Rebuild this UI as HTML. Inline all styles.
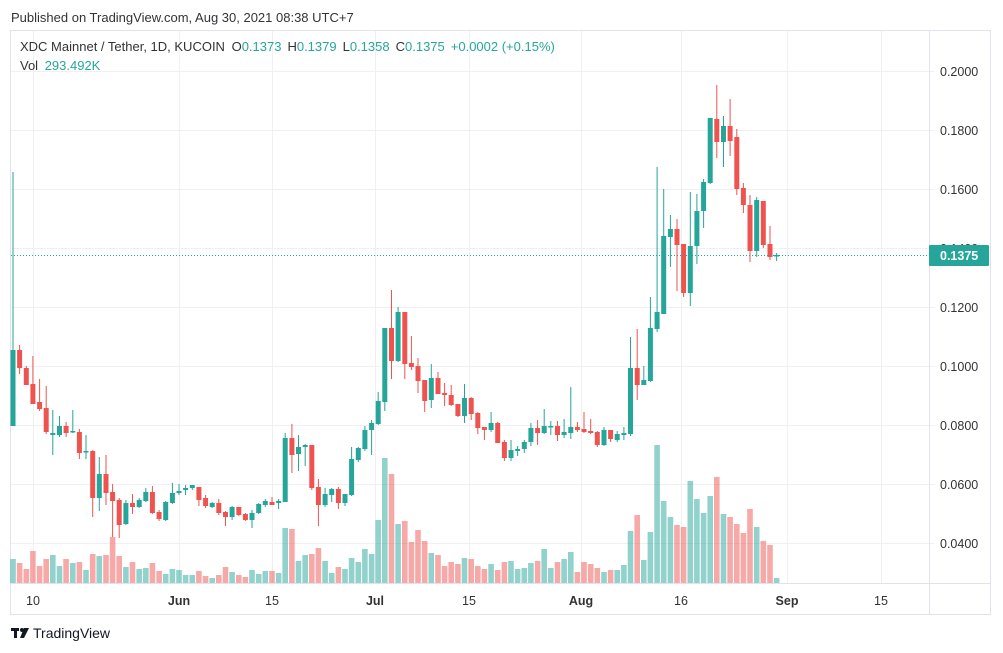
<!DOCTYPE html>
<html><head><meta charset="utf-8"><style>
html,body{margin:0;padding:0;background:#fff;width:1003px;height:653px;overflow:hidden;font-family:"Liberation Sans",sans-serif;}
svg text{font-family:"Liberation Sans",sans-serif;}
</style></head><body>
<svg id="s" width="1003" height="653" xmlns="http://www.w3.org/2000/svg">
<rect x="0" y="0" width="1003" height="653" fill="#fff"/>
<text x="11" y="22" font-size="13" fill="#333">Published on TradingView.com, Aug 30, 2021 08:38 UTC+7</text>
<g id="grid" stroke="#f0f0f3" stroke-width="1"></g>
<rect x="10.5" y="30.5" width="980" height="584" fill="none" stroke="#e0e3eb"/>
<line x1="929.5" y1="30" x2="929.5" y2="614" stroke="#e0e3eb"/>
<line x1="10" y1="583.5" x2="990" y2="583.5" stroke="#e0e3eb"/>
<g id="vol"></g>
<g id="cdl"></g>
<line x1="11" y1="255.5" x2="929" y2="255.5" stroke="#26a69a" stroke-dasharray="1,2"/>
<g id="lbl" font-size="12.5" fill="#333"></g>
<rect x="929" y="245" width="60" height="21" fill="#26a69a" rx="1"/>
<text x="940" y="260" font-size="12.5" fill="#fff" font-weight="bold">0.1375</text>
<text x="20" y="51" font-size="13" fill="#333">XDC Mainnet / Tether, 1D, KUCOIN <tspan dx="3">O</tspan><tspan fill="#26a69a">0.1373</tspan><tspan dx="6">H</tspan><tspan fill="#26a69a">0.1379</tspan><tspan dx="6">L</tspan><tspan fill="#26a69a">0.1358</tspan><tspan dx="6">C</tspan><tspan fill="#26a69a">0.1375</tspan><tspan dx="6" fill="#26a69a">+0.0002 (+0.15%)</tspan></text>
<text x="20" y="70" font-size="13" fill="#333">Vol <tspan dx="3" fill="#26a69a">293.492K</tspan></text>
<g fill="#131722"><rect x="11" y="628" width="8" height="3"/><rect x="14" y="628" width="3" height="10"/><circle cx="22" cy="630" r="2"/><polygon points="24,628 29,628 24,638 20,638"/></g>
<text x="33" y="638" font-size="14" fill="#131722">TradingView</text>
</svg>
<script>
var ns="http://www.w3.org/2000/svg";
function el(p,t,a){var e=document.createElementNS(ns,t);for(var k in a)e.setAttribute(k,a[k]);p.appendChild(e);return e;}
var G=document.getElementById('grid'),V=document.getElementById('vol'),C=document.getElementById('cdl'),L=document.getElementById('lbl');
var xs=[33,179,272,375,469,581,681,787,881];
xs.forEach(function(x){el(G,'line',{x1:x+.5,y1:31,x2:x+.5,y2:583});});
var pr=["0.2000","0.1800","0.1600","0.1400","0.1200","0.1000","0.0800","0.0600","0.0400"];
pr.forEach(function(p,i){var y=71+59*i;el(G,'line',{x1:11,y1:y+.5,x2:929,y2:y+.5});el(G,'line',{x1:929,y1:y+.5,x2:934,y2:y+.5});var t=el(L,'text',{x:940,y:y+5});t.textContent=p;});
var tl=[["10",33,0],["Jun",179,1],["15",272,0],["Jul",375,1],["15",469,0],["Aug",581,1],["16",681,0],["Sep",787,1],["15",881,0]];
tl.forEach(function(a){var t=el(L,'text',{x:a[1],y:605,'text-anchor':'middle','font-weight':a[2]?'bold':'normal'});t.textContent=a[0];});
// o,c,h,l (pixel y)
var D=[[426,350,172,426],[350,368,345,374],[368,385,366,385],[384,404,356,404],[402,409,379,411],[408,432,386,434],[435,433,410,455],[435,426,416,437],[426,433,422,437],[432,431,410,433],
[432,453,429,459],[452,451,435,459],[451,498,450,517],[498,474,457,511],[474,493,455,505],[492,501,484,537],[500,525,498,538],[524,503,500,525],[503,507,494,514],[507,500,498,508],
[501,492,488,502],[492,513,486,514],[512,519,510,521],[520,502,501,521],[503,493,483,504],[493,491,484,495],[490,488,485,495],[488,485,485,490],[487,500,487,506],[498,506,495,508],
[507,503,502,508],[503,513,499,515],[512,517,511,526],[517,507,506,520],[507,515,507,516],[514,520,513,521],[520,513,510,528],[513,504,503,514],[505,501,499,507],[502,505,497,505],
[503,501,499,509],[502,438,433,502],[438,455,424,473],[454,447,435,471],[447,445,444,466],[445,488,445,490],[487,505,479,526],[505,494,488,507],[495,489,488,502],[489,503,487,509],
[503,494,494,506],[495,459,447,496],[460,448,447,462],[449,430,426,451],[430,423,420,455],[424,401,392,425],[402,328,328,411],[328,361,290,379],[361,312,307,362],[312,364,312,379],
[363,367,336,370],[366,381,358,393],[380,401,380,412],[400,378,364,408],[378,394,372,394],[393,395,383,406],[395,405,385,406],[404,416,404,417],[416,398,384,423],[398,414,397,420],
[413,428,412,434],[427,430,427,440],[430,423,412,432],[423,443,422,443],[442,458,440,461],[458,450,440,461],[451,449,446,456],[449,442,440,453],[442,428,423,446],[428,433,420,445],
[433,426,409,434],[427,426,421,435],[426,435,421,441],[435,432,419,438],[433,427,387,439],[427,430,422,432],[429,432,412,433],[431,433,419,434],[432,445,431,447],[445,430,427,446],
[430,439,430,442],[440,434,431,442],[435,433,427,440],[434,368,337,436],[368,385,329,400],[385,380,366,385],[381,328,297,382],[329,312,167,332],[314,236,189,314],[237,229,215,267],
[229,245,219,291],[244,293,244,297],[293,246,192,306],[246,211,194,264],[211,182,179,228],[183,118,118,184],[119,142,85,158],[142,126,116,167],[126,141,99,156],[137,189,129,195],
[188,205,183,213],[205,251,195,262],[251,200,197,257],[201,245,201,248],[244,257,226,260],[256,255,253,261]];
var Vv=[[559,1],[563,0],[569,0],[551,0],[566,0],[559,0],[555,1],[566,1],[559,0],[563,1],[562,0],[570,1],[554,0],[556,1],[555,0],[537,0],[556,0],[567,1],[562,0],[569,1],
[568,1],[563,0],[571,0],[574,1],[569,1],[570,1],[575,1],[575,1],[571,0],[576,0],[578,1],[575,0],[567,0],[572,1],[575,0],[577,0],[570,1],[574,1],[571,1],[571,0],
[573,1],[528,1],[529,0],[561,1],[555,1],[554,0],[548,0],[561,1],[573,1],[567,0],[569,1],[558,1],[562,1],[549,1],[554,1],[520,1],[458,1],[474,0],[524,1],[521,0],
[542,0],[530,0],[541,0],[553,1],[555,0],[566,0],[562,0],[564,0],[558,1],[559,0],[566,0],[569,0],[564,1],[570,0],[562,0],[561,1],[569,1],[568,1],[563,1],[561,0],
[549,1],[568,1],[562,0],[559,1],[552,1],[572,0],[562,0],[564,0],[568,0],[572,1],[570,0],[570,1],[565,1],[531,1],[515,0],[560,1],[532,1],[445,1],[501,1],[517,1],
[525,0],[527,0],[481,1],[499,1],[513,1],[496,1],[477,0],[514,1],[517,0],[524,0],[533,0],[509,0],[527,1],[541,0],[545,0],[578,1]];
var GC="#26a69a",RC="#ef5350";
D.forEach(function(d,i){var x=13+6.64*i;var up=d[1]<d[0];var col=up?GC:RC;
 var v=Vv[i];el(V,'rect',{x:(x-2.8).toFixed(1),y:v[0],width:5.6,height:583-v[0],fill:v[1]?'rgba(38,166,154,0.5)':'rgba(239,83,80,0.5)'});
 el(C,'rect',{x:(x-0.5).toFixed(1),y:d[2],width:1,height:Math.max(1,d[3]-d[2]),fill:col});
 var t=Math.min(d[0],d[1]),b=Math.max(d[0],d[1]);
 el(C,'rect',{x:(x-2.5).toFixed(1),y:t,width:5,height:Math.max(1.5,b-t),fill:col});
});
</script>
</body></html>
